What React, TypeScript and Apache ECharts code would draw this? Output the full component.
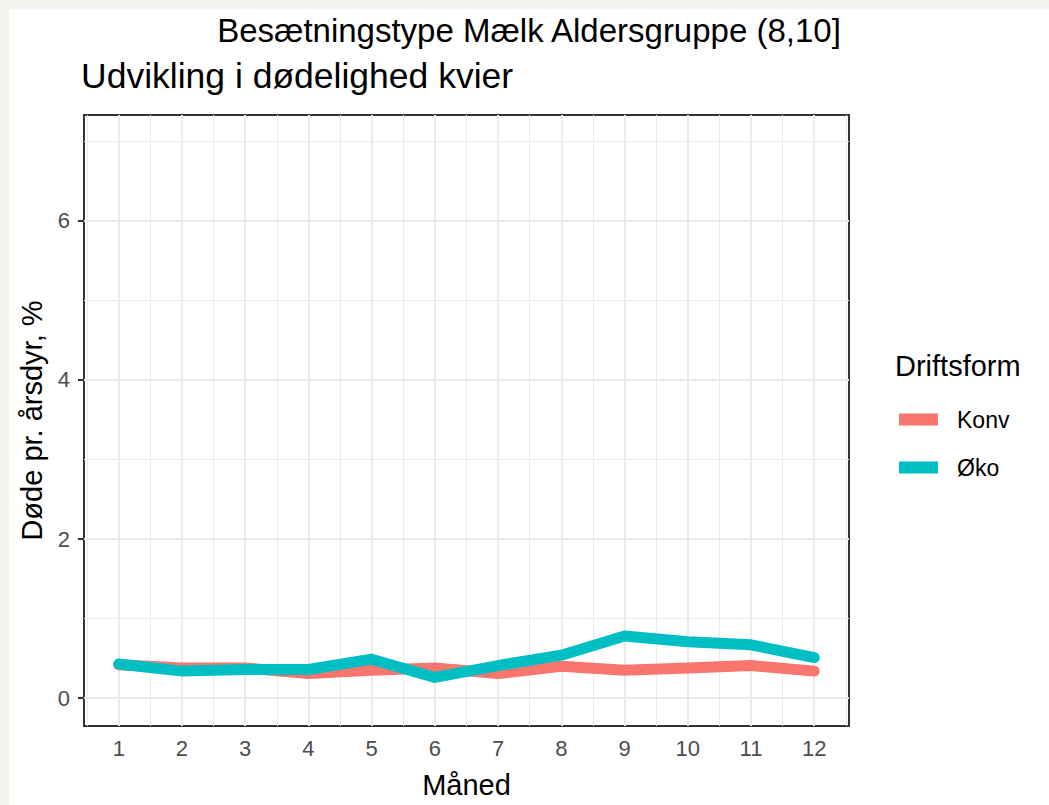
import React, { useEffect, useRef } from "react";
import * as echarts from "echarts";

const months = [1, 2, 3, 4, 5, 6, 7, 8, 9, 10, 11, 12];
const konvValues = [0.42, 0.38, 0.38, 0.31, 0.35, 0.38, 0.31, 0.4, 0.35, 0.38, 0.41, 0.34];
const okoValues = [0.43, 0.34, 0.36, 0.36, 0.49, 0.26, 0.41, 0.54, 0.78, 0.71, 0.67, 0.51];
const seriesNames = ["Konv", "Øko"];
const xTickValues = [1, 2, 3, 4, 5, 6, 7, 8, 9, 10, 11, 12];
const yTickValues = [0, 2, 4, 6];
const xMinorValues = [0.5, 1.5, 2.5, 3.5, 4.5, 5.5, 6.5, 7.5, 8.5, 9.5, 10.5, 11.5, 12.5];
const yMinorValues = [1, 3, 5, 7];

const FONT = "'Liberation Sans', Arial, Helvetica, sans-serif";
const GRID_COLOR = "#EBEBEB";

export default function App() {
  const ref = useRef<HTMLDivElement>(null);

  useEffect(() => {
    if (!ref.current) return;
    const chart = echarts.init(ref.current, undefined, { renderer: "svg" });

    const gridLines: any[] = [];
    xMinorValues.forEach((v) => gridLines.push({ xAxis: v, lineStyle: { width: 1, color: GRID_COLOR, type: "solid" } }));
    yMinorValues.forEach((v) => gridLines.push({ yAxis: v, lineStyle: { width: 1, color: GRID_COLOR, type: "solid" } }));
    xTickValues.forEach((v) => gridLines.push({ xAxis: v, lineStyle: { width: 2, color: GRID_COLOR, type: "solid" } }));
    yTickValues.forEach((v) => gridLines.push({ yAxis: v, lineStyle: { width: 2, color: GRID_COLOR, type: "solid" } }));

    const option: any = {
      animation: false,
      backgroundColor: "#FFFFFF",
      textStyle: { fontFamily: FONT },
      title: [
        {
          text: "Besætningstype Mælk Aldersgruppe (8,10]",
          left: "center",
          top: 5,
          padding: 0,
          textStyle: { fontSize: 33, fontWeight: "normal", color: "#000000", fontFamily: FONT },
        },
        {
          text: "Udvikling i dødelighed kvier",
          left: 72,
          top: 49,
          padding: 0,
          textStyle: { fontSize: 35.5, fontWeight: "normal", color: "#000000", fontFamily: FONT },
        },
        {
          text: "Driftsform",
          left: 886,
          top: 342,
          padding: 0,
          textStyle: { fontSize: 29, fontWeight: "normal", color: "#000000", fontFamily: FONT },
        },
      ],
      legend: {
        data: seriesNames,
        orient: "vertical",
        left: 890,
        top: 399,
        padding: 0,
        itemWidth: 39,
        itemHeight: 12,
        itemGap: 25,
        icon: "rect",
        selectedMode: false,
        textStyle: { fontSize: 23, color: "#000000", fontFamily: FONT, padding: [0, 0, 0, 14] },
      },
      grid: {
        left: 74,
        top: 106,
        right: 200,
        bottom: 79,
        show: true,
        borderColor: "#333333",
        borderWidth: 2,
        backgroundColor: "#FFFFFF",
        containLabel: false,
      },
      xAxis: {
        type: "value",
        min: 0.45,
        max: 12.55,
        name: "Måned",
        nameLocation: "middle",
        nameGap: 44,
        nameTextStyle: { fontSize: 29, color: "#000000", fontFamily: FONT },
        axisLine: { show: false },
        axisTick: { show: true, customValues: xTickValues, length: 6, lineStyle: { color: "#333333", width: 2 } },
        axisLabel: { customValues: xTickValues, fontSize: 22, color: "#4D4D4D", margin: 11, fontFamily: FONT },
        splitLine: { show: false },
      },
      yAxis: {
        type: "value",
        min: -0.35,
        max: 7.33,
        name: "Døde pr. årsdyr, %",
        nameLocation: "middle",
        nameRotate: 90,
        nameGap: 38,
        nameTextStyle: { fontSize: 29, color: "#000000", fontFamily: FONT },
        axisLine: { show: false },
        axisTick: { show: true, customValues: yTickValues, length: 6, lineStyle: { color: "#333333", width: 2 } },
        axisLabel: { customValues: yTickValues, fontSize: 22, color: "#4D4D4D", margin: 14, fontFamily: FONT },
        splitLine: { show: false },
      },
      series: [
        {
          name: "grid",
          type: "line",
          data: [],
          z: 1,
          silent: true,
          markLine: {
            silent: true,
            symbol: ["none", "none"],
            label: { show: false },
            emphasis: { disabled: true },
            lineStyle: { type: "solid", color: GRID_COLOR },
            data: gridLines,
          },
        },
        {
          name: seriesNames[0],
          type: "line",
          z: 10,
          color: "#F8766D",
          showSymbol: false,
          symbol: "none",
          data: months.map((m, i) => [m, konvValues[i]]),
          lineStyle: { width: 11, color: "#F8766D", cap: "round", join: "round" },
          emphasis: { disabled: true },
        },
        {
          name: seriesNames[1],
          type: "line",
          z: 11,
          color: "#00BFC4",
          showSymbol: false,
          symbol: "none",
          data: months.map((m, i) => [m, okoValues[i]]),
          lineStyle: { width: 11, color: "#00BFC4", cap: "round", join: "round" },
          emphasis: { disabled: true },
        },
      ],
    };

    chart.setOption(option);
    return () => chart.dispose();
  }, []);

  return (
    <div style={{ position: "absolute", left: 0, top: 0, width: 1049, height: 805, background: "#F6F4EF" }}>
      <div ref={ref} style={{ position: "absolute", left: 9, top: 9, width: 1040, height: 796, background: "#FFFFFF" }} />
    </div>
  );
}
